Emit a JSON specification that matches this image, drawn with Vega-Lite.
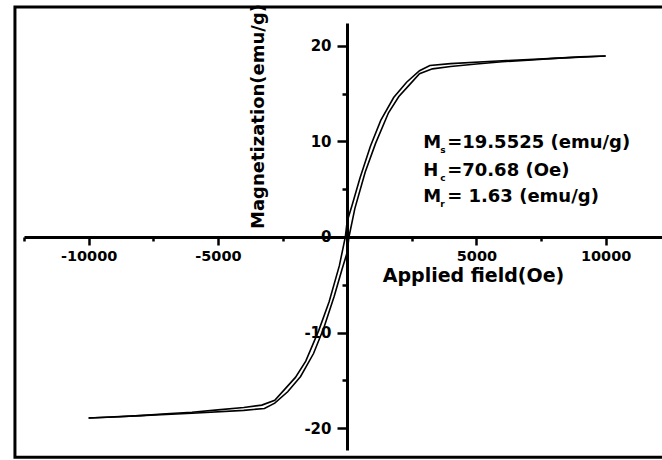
{
  "$schema": "https://vega.github.io/schema/vega-lite/v6.json",
  "width": 638,
  "height": 427,
  "autosize": {"type": "none"},
  "padding": {"left": 24, "top": 23, "right": 0, "bottom": 10},
  "background": "white",
  "config": {"view": {"stroke": null}, "font": "DejaVu Sans"},
  "datasets": {
    "loop": [
      {"branch": "asc", "seq": 1, "H": -10000, "M": -18.95},
      {"branch": "asc", "seq": 2, "H": -8000, "M": -18.7},
      {"branch": "asc", "seq": 3, "H": -6000, "M": -18.45},
      {"branch": "asc", "seq": 4, "H": -4000, "M": -18.15},
      {"branch": "asc", "seq": 5, "H": -3200, "M": -17.95},
      {"branch": "asc", "seq": 6, "H": -2800, "M": -17.4},
      {"branch": "asc", "seq": 7, "H": -2300, "M": -16.2},
      {"branch": "asc", "seq": 8, "H": -1800, "M": -14.6},
      {"branch": "asc", "seq": 9, "H": -1300, "M": -12.2},
      {"branch": "asc", "seq": 10, "H": -900, "M": -9.5},
      {"branch": "asc", "seq": 11, "H": -500, "M": -6.2},
      {"branch": "asc", "seq": 12, "H": -200, "M": -3.4},
      {"branch": "asc", "seq": 13, "H": 0, "M": -1.63},
      {"branch": "asc", "seq": 14, "H": 70, "M": 0},
      {"branch": "asc", "seq": 15, "H": 300, "M": 3.0},
      {"branch": "asc", "seq": 16, "H": 700, "M": 6.8},
      {"branch": "asc", "seq": 17, "H": 1100, "M": 9.8},
      {"branch": "asc", "seq": 18, "H": 1600, "M": 13.0},
      {"branch": "asc", "seq": 19, "H": 2000, "M": 14.7},
      {"branch": "asc", "seq": 20, "H": 2400, "M": 15.9},
      {"branch": "asc", "seq": 21, "H": 2800, "M": 17.1},
      {"branch": "asc", "seq": 22, "H": 3300, "M": 17.6},
      {"branch": "asc", "seq": 23, "H": 4000, "M": 17.85},
      {"branch": "asc", "seq": 24, "H": 5000, "M": 18.1},
      {"branch": "asc", "seq": 25, "H": 6000, "M": 18.35},
      {"branch": "asc", "seq": 26, "H": 7000, "M": 18.5},
      {"branch": "asc", "seq": 27, "H": 8000, "M": 18.7},
      {"branch": "asc", "seq": 28, "H": 9000, "M": 18.85},
      {"branch": "asc", "seq": 29, "H": 10000, "M": 18.95},
      {"branch": "desc", "seq": 1, "H": 10000, "M": 18.95},
      {"branch": "desc", "seq": 2, "H": 8000, "M": 18.7},
      {"branch": "desc", "seq": 3, "H": 6000, "M": 18.45},
      {"branch": "desc", "seq": 4, "H": 4000, "M": 18.15},
      {"branch": "desc", "seq": 5, "H": 3200, "M": 17.95},
      {"branch": "desc", "seq": 6, "H": 2800, "M": 17.4},
      {"branch": "desc", "seq": 7, "H": 2300, "M": 16.2},
      {"branch": "desc", "seq": 8, "H": 1800, "M": 14.6},
      {"branch": "desc", "seq": 9, "H": 1300, "M": 12.2},
      {"branch": "desc", "seq": 10, "H": 900, "M": 9.5},
      {"branch": "desc", "seq": 11, "H": 500, "M": 6.2},
      {"branch": "desc", "seq": 12, "H": 200, "M": 3.4},
      {"branch": "desc", "seq": 13, "H": 0, "M": 1.63},
      {"branch": "desc", "seq": 14, "H": -70, "M": 0},
      {"branch": "desc", "seq": 15, "H": -300, "M": -3.0},
      {"branch": "desc", "seq": 16, "H": -700, "M": -6.8},
      {"branch": "desc", "seq": 17, "H": -1100, "M": -9.8},
      {"branch": "desc", "seq": 18, "H": -1600, "M": -13.0},
      {"branch": "desc", "seq": 19, "H": -2000, "M": -14.7},
      {"branch": "desc", "seq": 20, "H": -2400, "M": -15.9},
      {"branch": "desc", "seq": 21, "H": -2800, "M": -17.1},
      {"branch": "desc", "seq": 22, "H": -3300, "M": -17.6},
      {"branch": "desc", "seq": 23, "H": -4000, "M": -17.85},
      {"branch": "desc", "seq": 24, "H": -5000, "M": -18.1},
      {"branch": "desc", "seq": 25, "H": -6000, "M": -18.35},
      {"branch": "desc", "seq": 26, "H": -7000, "M": -18.5},
      {"branch": "desc", "seq": 27, "H": -8000, "M": -18.7},
      {"branch": "desc", "seq": 28, "H": -9000, "M": -18.85},
      {"branch": "desc", "seq": 29, "H": -10000, "M": -18.95}
    ],
    "notes": [
      {"letter": "M", "sub": "s", "rest": "=19.5525 (emu/g)", "H": 2940, "M": 9.85},
      {"letter": "H", "sub": "c", "rest": "=70.68 (Oe)", "H": 2940, "M": 6.9},
      {"letter": "M", "sub": "r", "rest": "= 1.63 (emu/g)", "H": 2940, "M": 4.2}
    ]
  },
  "layer": [
    {
      "data": {"name": "loop"},
      "mark": {"type": "line", "color": "black", "strokeWidth": 1.6, "interpolate": "linear"},
      "encoding": {
        "x": {
          "field": "H", "type": "quantitative",
          "scale": {"domain": [-12500, 12180], "nice": false, "zero": false},
          "axis": {
            "orient": "bottom", "offset": -213,
            "values": [-12500, -10000, -7500, -5000, -2500, 0, 2500, 5000, 7500, 10000],
            "labelExpr": "datum.value % 5000 === 0 && datum.value !== 0 ? toString(datum.value) : ''",
            "domainColor": "black", "domainWidth": 3,
            "tickColor": "black", "tickWidth": 2.5,
            "tickSize": {"condition": {"test": "datum.value % 5000 === 0", "value": 8}, "value": 4},
            "grid": false,
            "labelFont": "DejaVu Sans", "labelFontWeight": "bold", "labelFontSize": 14.5, "labelColor": "black",
            "labelPadding": 4, "labelFlush": false, "labelOverlap": false,
            "title": "Applied field(Oe)", "titleFont": "DejaVu Sans", "titleFontWeight": "bold", "titleFontSize": 19, "titleColor": "black",
            "titleX": 449, "titleY": 38, "titleAlign": "center", "titleBaseline": "middle"
          }
        },
        "y": {
          "field": "M", "type": "quantitative",
          "scale": {"domain": [-22.3, 22.4], "nice": false, "zero": false},
          "axis": {
            "orient": "left", "offset": -323,
            "values": [-20, -15, -10, -5, 0, 5, 10, 15, 20],
            "labelExpr": "datum.value % 10 === 0 ? toString(datum.value) : ''",
            "domainColor": "black", "domainWidth": 3,
            "tickColor": "black", "tickWidth": 2.5,
            "tickSize": {"condition": {"test": "datum.value % 10 === 0", "value": 10}, "value": 5},
            "grid": false,
            "labelFont": "DejaVu Sans", "labelFontWeight": "bold", "labelFontSize": 15, "labelColor": "black",
            "labelPadding": 6, "labelFlush": false, "labelOverlap": false,
            "title": "Magnetization(emu/g)", "titleFont": "DejaVu Sans", "titleFontWeight": "bold", "titleFontSize": 18, "titleColor": "black",
            "titleAngle": 270, "titleX": -89, "titleY": 93, "titleAlign": "center", "titleBaseline": "middle"
          }
        },
        "detail": {"field": "branch"},
        "order": {"field": "seq", "type": "quantitative"}
      }
    },
    {
      "data": {"values": [{}]},
      "mark": {"type": "rect", "filled": false, "stroke": "black", "strokeWidth": 3, "clip": false},
      "encoding": {
        "x": {"datum": -12850, "type": "quantitative"},
        "x2": {"datum": 14500},
        "y": {"datum": 24.08, "type": "quantitative"},
        "y2": {"datum": -23.05}
      }
    },
    {
      "data": {"name": "notes"},
      "mark": {"type": "text", "align": "left", "baseline": "middle", "font": "DejaVu Sans", "fontWeight": "bold", "fontSize": 18, "color": "black"},
      "encoding": {
        "x": {"field": "H", "type": "quantitative"},
        "y": {"field": "M", "type": "quantitative"},
        "text": {"field": "letter"}
      }
    },
    {
      "data": {"name": "notes"},
      "mark": {"type": "text", "align": "left", "baseline": "middle", "font": "DejaVu Sans", "fontWeight": "bold", "fontSize": 9, "color": "black", "dx": 17, "dy": 7},
      "encoding": {
        "x": {"field": "H", "type": "quantitative"},
        "y": {"field": "M", "type": "quantitative"},
        "text": {"field": "sub"}
      }
    },
    {
      "data": {"name": "notes"},
      "mark": {"type": "text", "align": "left", "baseline": "middle", "font": "DejaVu Sans", "fontWeight": "bold", "fontSize": 18, "color": "black", "dx": 24},
      "encoding": {
        "x": {"field": "H", "type": "quantitative"},
        "y": {"field": "M", "type": "quantitative"},
        "text": {"field": "rest"}
      }
    }
  ]
}
